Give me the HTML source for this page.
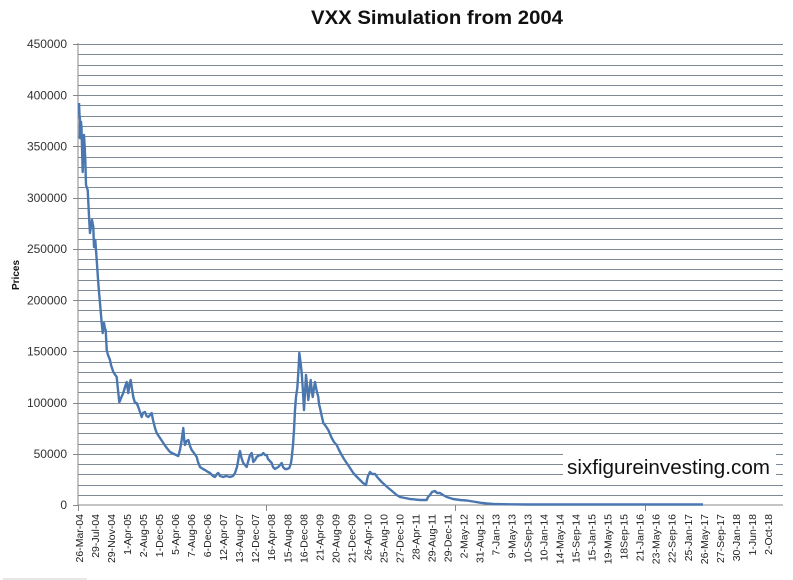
<!DOCTYPE html>
<html>
<head>
<meta charset="utf-8">
<style>
html,body{margin:0;padding:0;background:#fff;}
svg{display:block;}
text{font-family:"Liberation Sans",sans-serif;}
</style>
</head>
<body>
<svg width="793" height="580" viewBox="0 0 793 580" xmlns="http://www.w3.org/2000/svg">
<rect width="793" height="580" fill="#fff"/>
<text x="437" y="24" text-anchor="middle" font-size="19" font-weight="bold" fill="#111" textLength="252" lengthAdjust="spacingAndGlyphs">VXX Simulation from 2004</text>
<g id="grid" stroke="#7d8a96" stroke-width="1" shape-rendering="crispEdges"></g>
<g id="ylab" font-size="12" fill="#333" text-anchor="end"></g>
<text transform="translate(19,275) rotate(-90)" text-anchor="middle" font-size="10" font-weight="bold" fill="#111">Prices</text>
<g id="xlab" font-size="10.5" fill="#222" text-anchor="end"></g>
<line x1="78" y1="43" x2="78" y2="505" stroke="#888" stroke-width="1" shape-rendering="crispEdges"/>
<line x1="78" y1="505" x2="783" y2="505" stroke="#888" stroke-width="1" shape-rendering="crispEdges"/>
<g id="ticks" stroke="#888" stroke-width="1" shape-rendering="crispEdges"></g>
<polyline fill="none" stroke="#4a77b0" stroke-width="2.4" stroke-linejoin="round" points="79,103 79.5,115 80,120 79.8,138 81,122 81.5,128 82,147 82.7,172 83.3,150 84,135 84.6,145 85.3,160 86,185 87,188 87.7,190 88.7,210 89.5,225 90,233 91,226 92,220 93.3,227 94,247 95.3,240 96.7,260 98.3,283 99,292 100,303 101,315 101.7,323 102.7,333 103.5,326 104,323 105,329 105.7,330 106.7,350 108,355 110,360 111,365 113.3,372 116.7,377 118,390 119.3,402 120,401 121,398 123.3,393 125,387 126.7,382 127.5,388 128.3,393 129.5,384 130.7,380 131.7,387 133.3,397 135,403 136.7,403 138.3,407 140,412 141.7,417 143,413 145,412 146.5,416 148.3,417 150,415 151.7,413 153,420 155,428 156.7,433 160,438 163.3,443 166,447 170,452 174,454 178.3,456 180,450 181.7,440 183.3,428 184.2,440 185,445 186.5,441 188.3,440 190,446 191.7,450 194,453 196.7,457 198,462 200,467 203,469 205,470 208,472 210,473 213,476 215,477 217,474 218.3,473 220,476 223.3,477 226,476 230,477 233,476 235,473 237,467 238.3,460 239,455 240,451 241.5,458 243.3,463 245,465 246.7,467 248,462 250,455 251.7,453 253.3,462 255,460 256.7,457 258,456 260,455 261.5,455 263.3,453 265,455 266.7,455 268,459 271.7,463 273,467 275,469 276.5,468 278.3,467 280,465 281.7,463 283,467 285,469 287,469 289.3,468 291,463 291.7,458 293,445 294,430 295,410 296,397 297.3,388 298.5,370 299.3,353 300.5,362 301.7,373 303,392 304,410 305,393 306,375 307,385 308.3,400 309.5,390 310.7,380 311.7,390 312.7,397 314,388 315,382 316.5,390 318.3,397 319,404 320,408 321.5,415 323.3,423 325,425 328.3,430 330,434 331.7,438 334,442 336.7,445 339,450 341.7,455 344,459 346.7,463 350,468 353.3,473 357,477 360,480 363,483 366,485 367,480 368,476 370,472 372,474 375,474 378,478 381.7,482 385,485 388.3,488 392,491 396.7,495 400,497 405,498 410,499 413.3,499.3 420,500 426.7,500 428,497 430,495 432,492 435,491 437,493 440,493 443,495 446.7,497 453,499 460,500 466.7,500.5 473,501.5 480,502.7 487,503.5 493.3,504 510,504.3 526.7,504.5 600,504.5 703,504.5"/>
<rect x="563" y="447" width="213" height="35" fill="#fff"/>
<text x="567" y="474" font-size="20" fill="#111" textLength="203" lengthAdjust="spacingAndGlyphs">sixfigureinvesting.com</text>
<line x1="3" y1="579" x2="87" y2="579" stroke="#cfcfcf" stroke-width="1"/>
</svg>
<script>
(function(){
var ns="http://www.w3.org/2000/svg";
var grid=document.getElementById("grid"),ylab=document.getElementById("ylab"),xlab=document.getElementById("xlab"),ticks=document.getElementById("ticks");
function el(t,a,p){var e=document.createElementNS(ns,t);for(var k in a)e.setAttribute(k,a[k]);p.appendChild(e);return e;}
for(var k=1;k<=45;k++){var y=Math.round(505-k*10.244)+0.5;el("line",{x1:78,y1:y,x2:783,y2:y},grid);}
for(var k=0;k<=45;k+=5){var y=505-k*10.244;var t=el("text",{x:67,y:(y+4.2).toFixed(1)},ylab);t.textContent=String(k*10000);
el("line",{x1:73,y1:Math.round(y)+0.5,x2:78,y2:Math.round(y)+0.5},ticks);}
var labs=["26-Mar-04","29-Jul-04","29-Nov-04","1-Apr-05","2-Aug-05","1-Dec-05","5-Apr-06","7-Aug-06","6-Dec-06","12-Apr-07","13-Aug-07","12-Dec-07","16-Apr-08","15-Aug-08","16-Dec-08","21-Apr-09","20-Aug-09","21-Dec-09","26-Apr-10","25-Aug-10","27-Dec-10","28-Apr-11","29-Aug-11","29-Dec-11","2-May-12","31-Aug-12","7-Jan-13","9-May-13","10-Sep-13","10-Jan-14","14-May-14","15-Sep-14","15-Jan-15","19-May-15","18Sep-15","21-Jan-16","23-May-16","22-Sep-16","25-Jan-17","26-May-17","27-Sep-17","30-Jan-18","1-Jun-18","2-Oct-18"];
for(var i=0;i<labs.length;i++){var cx=79+i*16.02;var t=el("text",{transform:"translate("+(cx+4).toFixed(1)+",514) rotate(-90)"},xlab);t.textContent=labs[i];}
[78.5,266.5,455.5,645.5].forEach(function(x){el("line",{x1:x,y1:505,x2:x,y2:511},ticks);});
})();
</script>
</body>
</html>
